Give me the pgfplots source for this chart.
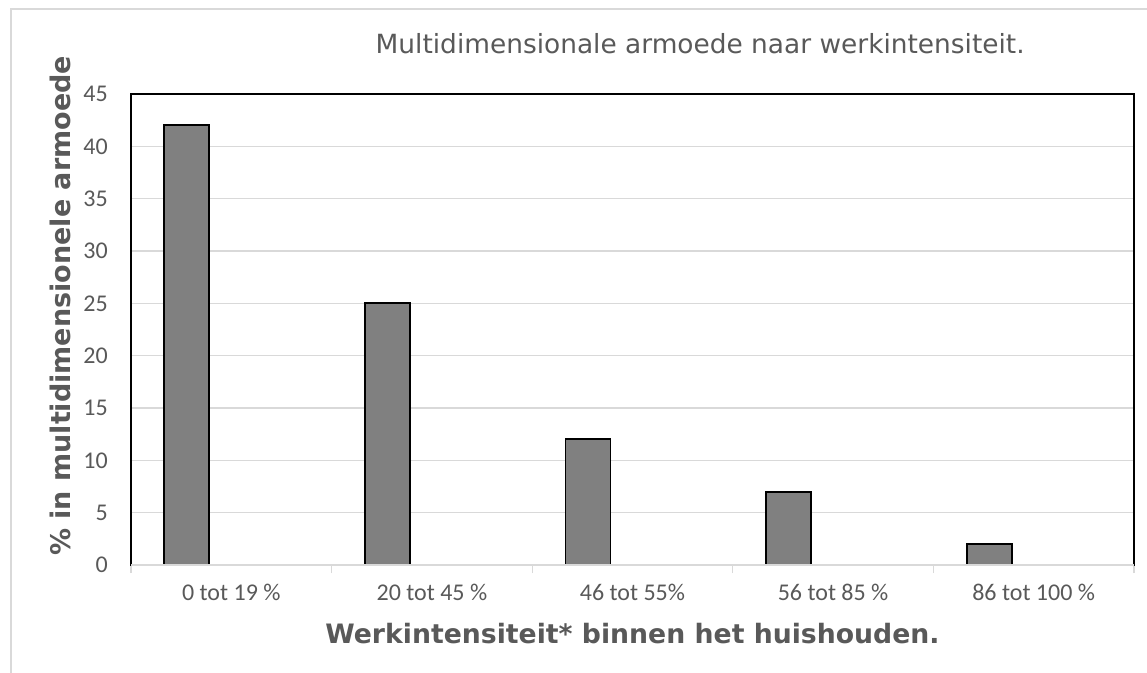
\documentclass[border=0pt]{standalone}
\usepackage{pgfplots}
\pgfplotsset{compat=1.18}
\usepackage{fontspec}
\setmainfont{DejaVu Sans}
\newfontfamily\calfont{Carlito}
\definecolor{txt}{HTML}{595959}
\definecolor{gridc}{HTML}{D9D9D9}
\definecolor{barfill}{HTML}{808080}
\begin{document}
\begin{tikzpicture}
\useasboundingbox (0,0) rectangle (1147bp,673bp);
\draw[gridc, line width=1.2bp] (11bp,0) -- (11bp,664bp) -- (1147bp,664bp);
\begin{axis}[name=ax, at={(131bp,108bp)}, anchor=south west,
  scale only axis, width=1003bp, height=471bp,
  xmin=-0.5, xmax=4.5, ymin=0, ymax=45,
  ybar, bar width=45bp, bar shift=-44.5bp,
  xtick={0,1,2,3,4},
  xticklabels={0 tot 19 \%, 20 tot 45 \%, 46 tot 55\%, 56 tot 85 \%, 86 tot 100 \%},
  minor xtick={-0.5,0.5,1.5,2.5,3.5,4.5},
  ytick={0,5,...,45},
  /pgf/number format/assume math mode=true,
  major tick length=0pt, minor tick length=8bp, tick align=outside,
  xtick pos=bottom, ytick pos=left,
  minor x tick style={gridc, line width=1.2bp},
  ymajorgrids, grid style={gridc, line width=1.2bp},
  axis line style={black, line width=1.6bp},
  xticklabel style={font=\calfont\fontsize{24bp}{24bp}\selectfont, text=txt, anchor=base, yshift=-35bp, inner sep=0pt},
  yticklabel style={font=\calfont\fontsize{24bp}{24bp}\selectfont, text=txt, anchor=east, xshift=-23bp, inner sep=0pt},
  title={Multidimensionale armoede naar werkintensiteit.},
  title style={at={(axis description cs:0.5675,1)}, anchor=base, yshift=35bp, font=\fontsize{26.4bp}{26bp}\selectfont, text=txt, inner sep=0pt},
  xlabel={Werkintensiteit* binnen het huishouden.},
  xlabel style={at={(axis description cs:0.5,0)}, anchor=base, yshift=-78bp, font=\bfseries\fontsize{26.7bp}{27bp}\selectfont, text=txt, inner sep=0pt},
  ylabel={\% in multidimensionele armoede},
  ylabel style={at={(axis description cs:-0.0608,0.55)}, anchor=base, font=\bfseries\fontsize{27bp}{27bp}\selectfont, text=txt, inner sep=0pt},
]
\addplot[fill=barfill, draw=black, line width=1.8bp] coordinates {(0,42) (1,25) (2,12) (3,7) (4,2)};
\end{axis}
\draw[gridc, line width=1.5bp] (ax.south west) -- (ax.south east);
\end{tikzpicture}
\end{document}
